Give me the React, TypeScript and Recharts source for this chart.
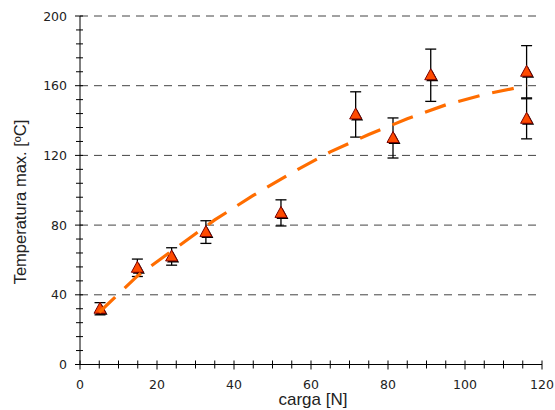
import React from 'react';
import { ScatterChart, Scatter, XAxis, YAxis, ErrorBar, ReferenceLine } from 'recharts';

// measured points: load [N], max temperature [ºC], error
const cargaN = [5.2, 14.9, 23.8, 32.7, 52.2, 71.6, 81.3, 91.1, 116, 116];
const tempMax = [32, 55.5, 62, 76, 87, 143.5, 130, 166, 168, 141];
const tempErr = [3.5, 5, 5, 6.5, 7.5, 13, 11.5, 15, 15, 11.5];

// fitted trend (orange dashed)
const fitX = [5, 15, 25, 35, 45, 55, 65, 75, 85, 95, 105, 116];
const fitY = [30, 51, 67, 83, 97, 110, 122, 132, 141, 149, 155, 160];

const gridValues = [40, 80, 120, 160, 200];
const xTicks = Array.from({ length: 25 }, (_, i) => i * 5);
const yTicks = Array.from({ length: 26 }, (_, i) => i * 8);

const points = cargaN.map((x, i) => ({ x, y: tempMax[i], err: tempErr[i] }));
const fit = fitX.map((x, i) => ({ x, y: fitY[i] }));

const tickFont = { fontFamily: 'DejaVu Sans, sans-serif', fontSize: 12.5, fill: '#222' };
const labelFont = { fontFamily: 'Liberation Sans, Arial, sans-serif', fill: '#222' };

const YTick = (props: any) => {
  const { x, y, payload } = props;
  const v = payload.value;
  const major = v % 40 === 0;
  return (
    <g>
      <line x1={major ? x - 5 : x - 4} x2={x + 3} y1={y} y2={y} stroke="#000" strokeWidth={1} />
      {major && (
        <text x={x - 13} y={y + 4.5} textAnchor="end" {...tickFont}>
          {v}
        </text>
      )}
    </g>
  );
};

const XTick = (props: any) => {
  const { x, y, payload } = props;
  const v = payload.value;
  const major = v % 20 === 0;
  return (
    <g>
      <line x1={x} x2={x} y1={y - 4} y2={y + (major ? 5 : 4)} stroke="#000" strokeWidth={1} />
      {major && (
        <text x={x} y={y + 24} textAnchor="middle" {...tickFont}>
          {v}
        </text>
      )}
    </g>
  );
};

const Triangle = (props: any) => {
  const { cx, cy } = props;
  if (cx == null || cy == null) return <g />;
  const tri = (dx: number, dy: number) =>
    `${cx + dx},${cy - 6.5 + dy} ${cx - 6 + dx},${cy + 4.5 + dy} ${cx + 6 + dx},${cy + 4.5 + dy}`;
  return (
    <g>
      <polygon points={tri(1.5, 1.5)} fill="#000" />
      <polygon points={tri(0, 0)} fill="#ff4a00" stroke="#7a0000" strokeWidth={1} />
    </g>
  );
};

export default function App() {
  return (
    <div style={{ position: 'absolute', left: 0, top: 0, width: 555, height: 410, background: '#fff' }}>
      <ScatterChart width={555} height={410} margin={{ top: 16, right: 13, bottom: 0, left: 0 }}>
        <XAxis
          type="number"
          dataKey="x"
          domain={[0, 120]}
          ticks={xTicks}
          interval={0}
          height={45.5}
          tickSize={0}
          tickMargin={0}
          tickLine={false}
          tick={<XTick />}
          axisLine={{ stroke: '#000', strokeWidth: 1 }}
          label={{
            content: () => (
              <text x={313} y={405} textAnchor="middle" fontSize={17} {...labelFont}>
                carga [N]
              </text>
            ),
          }}
        />
        <YAxis
          type="number"
          dataKey="y"
          domain={[0, 200]}
          ticks={yTicks}
          interval={0}
          width={80}
          tickSize={0}
          tickMargin={0}
          tickLine={false}
          tick={<YTick />}
          axisLine={{ stroke: '#000', strokeWidth: 1 }}
          label={{
            content: () => (
              <text
                x={20}
                y={202}
                transform="rotate(-90 20 202)"
                textAnchor="middle"
                dominantBaseline="central"
                fontSize={16.5}
                {...labelFont}
              >
                Temperatura max. [ºC]
              </text>
            ),
          }}
        />
        {gridValues.map((v) => (
          <ReferenceLine key={v} y={v} stroke="#444" strokeWidth={1} strokeDasharray="8 6" />
        ))}
        <Scatter data={points} shape={<Triangle />} isAnimationActive={false}>
          <ErrorBar dataKey="err" direction="y" width={5.5} stroke="#000" strokeWidth={1.3} />
        </Scatter>
        <Scatter
          data={fit}
          shape={() => <g />}
          line={{ stroke: '#ff6d00', strokeWidth: 3.2, strokeDasharray: '22 13' }}
          isAnimationActive={false}
        />
      </ScatterChart>
    </div>
  );
}
